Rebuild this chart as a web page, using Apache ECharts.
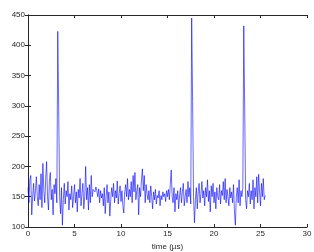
<!DOCTYPE html>
<html>
<head>
<meta charset="utf-8">
<script src="https://cdn.jsdelivr.net/npm/echarts@6/dist/echarts.min.js"></script>
<style>
  html, body { margin: 0; padding: 0; background: #fff; }
  #chart { width: 314px; height: 252px; }
</style>
</head>
<body>
<div id="chart"></div>
<script>
// sample step of the trace (µs)
var dt = 0.1;

// counts, one row per microsecond
var counts = [
  165, 140, 178, 185, 120, 150, 172, 143, 160, 183,
  150, 135, 170, 145, 188, 132, 205, 160, 140, 178,
  208, 150, 128, 175, 190, 145, 162, 120, 170, 155,
  180, 140, 423, 295, 150, 122, 165, 103, 145, 172,
  138, 160, 150, 175, 128, 155, 145, 168, 132, 150,
  170, 140, 158, 125, 162, 148, 180, 135, 155, 172,
  130, 150, 200, 145, 165, 128, 170, 140, 185, 150,
  162, 165, 158, 166, 160, 150, 163, 140, 160, 148,
  155, 135, 165, 122, 150, 170, 140, 158, 118, 145,
  165, 150, 172, 140, 160, 148, 176, 138, 155, 168,
  142, 160, 135, 123, 158, 170, 150, 180, 145, 162,
  150, 175, 140, 185, 158, 190, 145, 160, 170, 120,
  165, 150, 178, 196, 160, 185, 140, 170, 155, 145,
  160, 140, 168, 150, 130, 158, 145, 162, 138, 152,
  148, 160, 135, 152, 145, 158, 150, 155, 142, 160,
  150, 162, 145, 170, 194, 150, 140, 165, 125, 155,
  145, 160, 130, 152, 165, 140, 158, 172, 135, 150,
  162, 140, 175, 150, 165, 138, 445, 307, 150, 107,
  145, 165, 130, 158, 172, 140, 155, 175, 148, 160,
  135, 165, 150, 178, 142, 160, 125, 168, 150, 172,
  140, 158, 130, 165, 150, 145, 170, 138, 160, 152,
  175, 145, 180, 140, 162, 150, 135, 165, 148, 158,
  140, 170, 125, 103, 150, 165, 140, 178, 135, 160,
  150, 165, 432, 298, 145, 130, 160, 150, 172, 138,
  160, 145, 178, 130, 165, 150, 183, 140, 187, 158,
  135, 172, 150, 180, 145, 152
];

var xTicks = [0, 30, 5];   // min, max, step
var yTicks = [100, 450, 50];

var points = counts.map(function (c, i) {
  return [+(i * dt).toFixed(2), c];
});

var chart = echarts.init(document.getElementById('chart'));

var axisLine = { show: true, lineStyle: { color: '#262626', width: 1 } };
var tick = { show: true, inside: true, length: 3, lineStyle: { color: '#262626' } };
var lbl = { color: '#262626', fontSize: 8, fontFamily: 'Liberation Sans, Arial, sans-serif' };

var option = {
  animation: false,
  backgroundColor: '#fff',
  grid: { left: 28, right: 7, top: 15, bottom: 25, containLabel: false, outerBoundsMode: 'none' },
  xAxis: [{
    type: 'value',
    min: xTicks[0], max: xTicks[1], interval: xTicks[2],
    name: 'time (µs)',
    nameLocation: 'middle',
    nameGap: 11,
    nameTextStyle: lbl,
    axisLine: axisLine,
    axisTick: tick,
    axisLabel: Object.assign({ margin: 3 }, lbl),
    splitLine: { show: false }
  }, {
    type: 'value',
    position: 'top',
    min: xTicks[0], max: xTicks[1], interval: xTicks[2],
    axisLine: axisLine,
    axisTick: tick,
    axisLabel: { show: false },
    splitLine: { show: false }
  }],
  yAxis: [{
    type: 'value',
    min: yTicks[0], max: yTicks[1], interval: yTicks[2],
    name: 'Counts',
    nameLocation: 'middle',
    nameGap: 21,
    nameRotate: 90,
    nameTextStyle: lbl,
    axisLine: axisLine,
    axisTick: tick,
    axisLabel: Object.assign({ margin: 3 }, lbl),
    splitLine: { show: false }
  }, {
    type: 'value',
    position: 'right',
    min: yTicks[0], max: yTicks[1], interval: yTicks[2],
    axisLine: axisLine,
    axisTick: tick,
    axisLabel: { show: false },
    splitLine: { show: false }
  }],
  series: [{
    type: 'line',
    data: points,
    showSymbol: false,
    lineStyle: { color: '#0000ff', width: 0.6 },
    z: 1
  }]
};

chart.setOption(option);
</script>
</body>
</html>
